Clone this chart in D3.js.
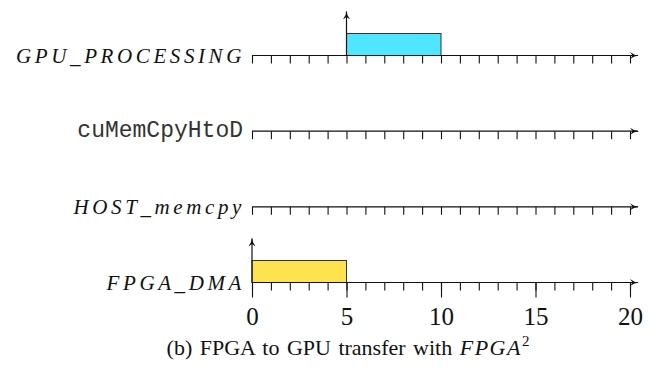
<!DOCTYPE html>
<html>
<head>
<meta charset="utf-8">
<script src="https://cdn.jsdelivr.net/npm/d3@7"></script>
<style>
  html, body { margin: 0; padding: 0; background: #fff; }
  svg { display: block; }
</style>
</head>
<body>
<svg id="chart" width="649" height="368"></svg>
<script>
// rows of the timeline, top to bottom
const rows = ['GPU_PROCESSING', 'cuMemCpyHtoD', 'HOST_memcpy', 'FPGA_DMA'];
const rowMono = [false, true, false, false];

// busy intervals
const barRows = ['GPU_PROCESSING', 'FPGA_DMA'];
const barStarts = [5, 0];
const barEnds = [10, 5];
const barColors = ['#50E6FF', '#FFE34E'];

const minorTicks = d3.range(0, 21);
const majorTicks = [0, 5, 10, 15, 20];
const caption = '(b) FPGA to GPU transfer with ';

const serif = "'Liberation Serif', 'Times New Roman', serif";
const mono = "'Liberation Mono', 'Courier New', monospace";

const svg = d3.select('#chart');

const x = d3.scaleLinear().domain([0, 20]).range([252, 630]);
const y = d3.scalePoint().domain(rows).range([55.5, 282.5]);

const defs = svg.append('defs');
defs.append('marker')
  .attr('id', 'arrow')
  .attr('viewBox', '0 0 10 10')
  .attr('refX', 9)
  .attr('refY', 5)
  .attr('markerWidth', 9)
  .attr('markerHeight', 9)
  .attr('markerUnits', 'userSpaceOnUse')
  .attr('orient', 'auto')
  .append('path')
  .attr('d', 'M0,1 Q5,5 10,5 Q5,5 0,9 L3,5 Z')
  .attr('fill', '#111');

// bars first so axis lines sit on top
const bars = barRows.map((r, i) => ({ row: r, start: barStarts[i], end: barEnds[i], color: barColors[i] }));

svg.selectAll('rect.bar')
  .data(bars)
  .join('rect')
  .attr('class', 'bar')
  .attr('x', (d) => x(d.start))
  .attr('y', (d) => y(d.row) - 22)
  .attr('width', (d) => x(d.end) - x(d.start))
  .attr('height', 22)
  .attr('fill', (d) => d.color)
  .attr('stroke', '#333')
  .attr('stroke-width', 1);

svg.selectAll('line.start')
  .data(bars)
  .join('line')
  .attr('class', 'start')
  .attr('x1', (d) => x(d.start))
  .attr('x2', (d) => x(d.start))
  .attr('y1', (d) => y(d.row))
  .attr('y2', (d) => y(d.row) - 44)
  .attr('stroke', '#111')
  .attr('stroke-width', 1.2)
  .attr('marker-end', 'url(#arrow)');

rows.forEach((r, i) => {
  const g = svg.append('g').attr('transform', `translate(0, ${y(r)})`);

  g.call(d3.axisBottom(x).tickValues(minorTicks).tickSize(8).tickSizeOuter(0).tickFormat(''));
  g.select('.domain').remove();
  g.selectAll('.tick line').attr('stroke', '#111').attr('stroke-width', 1.1);

  g.append('line')
    .attr('x1', x(0))
    .attr('x2', x(20) + 8)
    .attr('y1', 0)
    .attr('y2', 0)
    .attr('stroke', '#111')
    .attr('stroke-width', 1.2)
    .attr('marker-end', 'url(#arrow)');

  const label = g.append('text')
    .attr('text-anchor', 'end')
    .attr('fill', '#111')
    .text(r);
  if (rowMono[i]) {
    label.attr('x', 243).attr('y', 6)
      .attr('font-family', mono)
      .attr('font-size', 23)
      .attr('fill', '#333');
  } else {
    label.attr('x', 245).attr('y', 7)
      .attr('font-family', serif)
      .attr('font-style', 'italic')
      .attr('font-size', 21)
      .attr('letter-spacing', 3.6);
  }
});

// major ticks and labels on the bottom row
const bottom = svg.append('g')
  .attr('transform', `translate(0, ${y(rows[rows.length - 1])})`)
  .call(d3.axisBottom(x).tickValues(majorTicks).tickSize(15).tickSizeOuter(0).tickPadding(10));
bottom.select('.domain').remove();
bottom.selectAll('.tick line').attr('stroke', '#111').attr('stroke-width', 1.1);
bottom.selectAll('.tick text')
  .attr('fill', '#111')
  .attr('font-family', serif)
  .attr('font-size', 25);

const cap = svg.append('text')
  .attr('x', 348)
  .attr('y', 355)
  .attr('text-anchor', 'middle')
  .attr('font-family', serif)
  .attr('font-size', 22)
  .attr('word-spacing', 2)
  .attr('fill', '#111')
  .text(caption);
cap.append('tspan').attr('font-style', 'italic').attr('letter-spacing', 1.5).text('FPGA');
cap.append('tspan').attr('dy', -9).attr('font-size', 15).text('2');
</script>
</body>
</html>
